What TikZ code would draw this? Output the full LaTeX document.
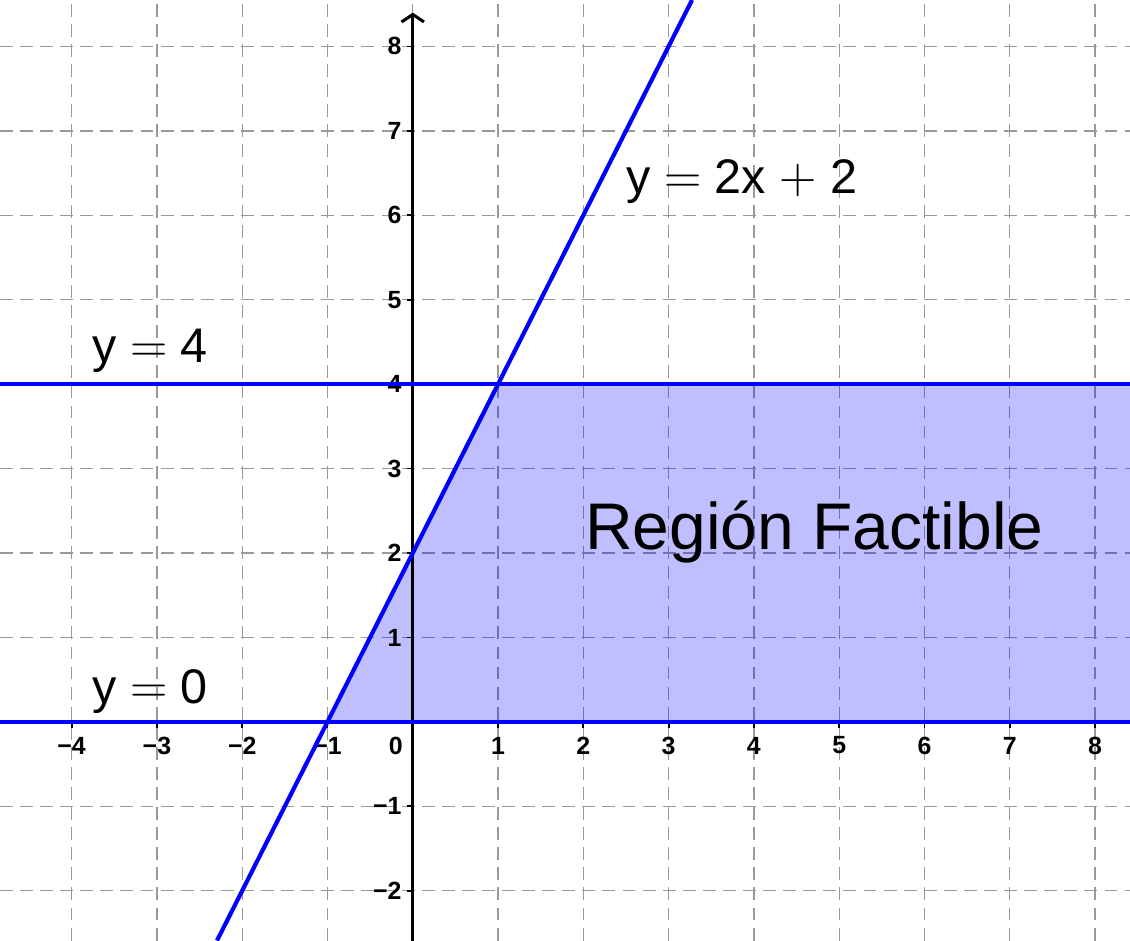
\documentclass[tikz,border=0pt]{standalone}
\usepackage{fontspec}
\setmainfont{Liberation Sans}
\usetikzlibrary{arrows.meta}
\tikzset{
  gridline/.style={black!40,line width=0.45pt,dash pattern=on 4.3pt off 2.4pt},
  bordline/.style={blue,line width=1.4pt},
  ticklab/.style={font=\fontsize{8.3}{10}\selectfont\bfseries,inner sep=1pt},
  eqlab/.style={font=\fontsize{16.2}{19}\selectfont}
}

\begin{document}
\begin{tikzpicture}[x=1cm,y=0.99cm]
	\useasboundingbox (-4.84,-2.59) rectangle (8.41,8.55);
	% grid
	\foreach \x in {-4,...,8}
		\draw[gridline] (\x,-2.59)--(\x,8.55);
	\foreach \y in {-2,...,8}
		\draw[gridline] (-4.84,\y)--(8.41,\y);
	% feasible region
	\fill[blue,fill opacity=0.25] (-1,0)--(1,4)--(8.41,4)--(8.41,0)--cycle;
	% axes
	\draw[line width=1pt] (-4.84,0)--(8.41,0);
	\draw[line width=1pt,-{Straight Barb[length=2.5pt,width=7.5pt]}] (0,-2.59)--(0,8.40);
	\foreach \y in {-2,...,8}
		\draw[line width=0.6pt] (-0.07,\y)--(0,\y);
	\foreach \x in {-4,...,8}
		\draw[line width=0.6pt] (\x,-0.07)--(\x,0);
	% tick labels
	\foreach \x in {1,...,4}
		\node[ticklab] (xm\x) at (-\x,-0.28) {−\x};
	\foreach \x in {1,...,8}
		\node[ticklab] (xp\x) at (\x,-0.28) {\x};
	\node[ticklab] (origin) at (-0.2,-0.28) {0};
	\foreach \y in {1,2}
		\node[ticklab,anchor=east] (ym\y) at (-0.09,-\y) {−\y};
	\foreach \y in {1,...,8}
		\node[ticklab,anchor=east] (yp\y) at (-0.09,\y) {\y};
	% boundary lines
	\draw[bordline] (-4.84,0)--(8.41,0);
	\draw[bordline] (-4.84,4)--(8.41,4);
	\draw[bordline] (-2.295,-2.59)--(3.275,8.55);
	% labels
	\node[eqlab] (labfour) at (-3.08,4.39) {y \(=\) 4};
	\node[eqlab] (labzero) at (-3.08,0.36) {y \(=\) 0};
	\node[eqlab] (labline) at (3.86,6.40) {y \(=\) 2x \(+\) 2};
	\node[font=\fontsize{22}{26}\selectfont] (labregion) at (4.71,2.25) {Región Factible};
\end{tikzpicture}
\end{document}
